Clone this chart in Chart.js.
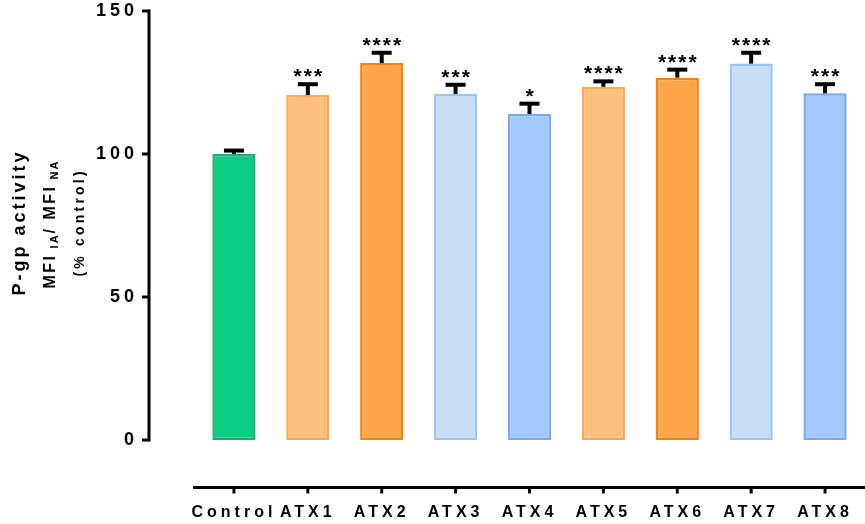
<!DOCTYPE html>
<html>
<head>
<meta charset="utf-8">
<title>P-gp activity</title>
<script src="https://cdn.jsdelivr.net/npm/chart.js@4.4.1/dist/chart.umd.min.js"></script>
<style>
  html, body { margin: 0; padding: 0; background: #ffffff; }
  #wrap { width: 865px; height: 524px; position: relative; }
</style>
</head>
<body>
<div id="wrap"><canvas id="chart"></canvas></div>
<script>
// Treatment groups and measured P-gp activity (MFI IA / MFI NA, % of control)
const categories = ['Control', 'ATX1', 'ATX2', 'ATX3', 'ATX4', 'ATX5', 'ATX6', 'ATX7', 'ATX8'];
const meanValues = [100, 120.6, 131.8, 121.0, 114.0, 123.5, 126.7, 131.6, 121.2];
const errorValues = [1.2, 3.8, 3.6, 3.2, 3.6, 1.9, 2.8, 3.8, 3.2];
const significance = ['', '***', '****', '***', '*', '****', '****', '****', '***'];
const yTickValues = [0, 50, 100, 150];

const fillColors = ['#08CE84', '#FFC07F', '#FFA64C', '#C8DDF7', '#A4C8FA', '#FFC07F', '#FFA64C', '#C8DDF7', '#A4C8FA'];
const borderColors = ['#1DAF74', '#FFA84E', '#FF8000', '#9AC4F7', '#72ACF5', '#FFA84E', '#FF8000', '#9AC4F7', '#72ACF5'];

const FONT = '"Liberation Sans", Arial, Helvetica, sans-serif';

// Draws the detached axes, error bars, significance stars and the y-axis title
const decorations = {
  id: 'decorations',
  beforeDraw(chart) {
    chart.ctx.letterSpacing = '4px';
  },
  afterDatasetsDraw(chart) {
    const ctx = chart.ctx;
    const xs = chart.scales.x;
    const ys = chart.scales.y;
    const area = chart.chartArea;

    ctx.save();
    ctx.strokeStyle = '#000';
    ctx.fillStyle = '#000';

    // error bars (upper half only)
    categories.forEach((_, i) => {
      const x = xs.getPixelForValue(i);
      const yBar = ys.getPixelForValue(meanValues[i]);
      const yTop = ys.getPixelForValue(meanValues[i] + errorValues[i]);
      ctx.lineWidth = 4;
      ctx.beginPath();
      ctx.moveTo(x, yBar);
      ctx.lineTo(x, yTop);
      ctx.stroke();
      ctx.beginPath();
      ctx.moveTo(x - 10, yTop);
      ctx.lineTo(x + 10, yTop);
      ctx.stroke();

      if (significance[i]) {
        ctx.font = 'bold 21px ' + FONT;
        ctx.letterSpacing = '2px';
        ctx.textAlign = 'center';
        ctx.textBaseline = 'alphabetic';
        ctx.fillText(significance[i], x + 1, yTop - 1);
      }
    });

    // y axis line and outward tick marks
    const axisX = area.left - 48;
    ctx.lineWidth = 3;
    ctx.beginPath();
    ctx.moveTo(axisX, ys.getPixelForValue(ys.max) - 1.5);
    ctx.lineTo(axisX, ys.getPixelForValue(ys.min) + 1.5);
    ctx.stroke();
    yTickValues.forEach(v => {
      const y = ys.getPixelForValue(v);
      ctx.beginPath();
      ctx.moveTo(axisX - 7, y);
      ctx.lineTo(axisX, y);
      ctx.stroke();
    });

    // x axis line, offset below the bars, with downward tick marks
    const axisY = area.bottom + 47.5;
    ctx.beginPath();
    ctx.moveTo(area.left - 4, axisY);
    ctx.lineTo(chart.width, axisY);
    ctx.stroke();
    categories.forEach((_, i) => {
      const x = xs.getPixelForValue(i);
      ctx.beginPath();
      ctx.moveTo(x, axisY);
      ctx.lineTo(x, axisY + 6);
      ctx.stroke();
    });

    // y-axis title: three stacked rotated lines, the middle one with subscripts
    const titleY = 224;
    ctx.textBaseline = 'alphabetic';

    ctx.save();
    ctx.translate(25, titleY);
    ctx.rotate(-Math.PI / 2);
    ctx.font = 'bold 18px ' + FONT;
    ctx.letterSpacing = '3px';
    ctx.textAlign = 'center';
    ctx.fillText('P-gp activity', 1.5, 0);
    ctx.restore();

    const parts = [
      { t: 'MFI', size: 16, shift: 0, sp: '2.5px' },
      { t: ' IA', size: 11, shift: 3, sp: '2px' },
      { t: '/ MFI', size: 16, shift: 0, sp: '2.5px' },
      { t: ' NA', size: 11, shift: 3, sp: '2px' }
    ];
    ctx.save();
    ctx.translate(55, titleY);
    ctx.rotate(-Math.PI / 2);
    ctx.textAlign = 'left';
    let total = 0;
    parts.forEach(p => {
      ctx.font = 'bold ' + p.size + 'px ' + FONT;
      ctx.letterSpacing = p.sp;
      p.w = ctx.measureText(p.t).width;
      total += p.w;
    });
    let px = -total / 2;
    parts.forEach(p => {
      ctx.font = 'bold ' + p.size + 'px ' + FONT;
      ctx.letterSpacing = p.sp;
      ctx.fillText(p.t, px, p.shift);
      px += p.w;
    });
    ctx.restore();

    ctx.save();
    ctx.translate(84, titleY);
    ctx.rotate(-Math.PI / 2);
    ctx.font = 'bold 14px ' + FONT;
    ctx.letterSpacing = '3.2px';
    ctx.textAlign = 'center';
    ctx.fillText('(% control)', 1.6, 0);
    ctx.restore();

    ctx.restore();
    ctx.letterSpacing = '4px';
  }
};

new Chart(document.getElementById('chart'), {
  type: 'bar',
  data: {
    labels: categories,
    datasets: [{
      data: meanValues,
      backgroundColor: fillColors,
      borderColor: borderColors,
      borderWidth: 2.5,
      borderSkipped: false,
      barPercentage: 0.585,
      categoryPercentage: 1.0
    }]
  },
  options: {
    responsive: true,
    maintainAspectRatio: false,
    animation: false,
    devicePixelRatio: 1,
    layout: { padding: { top: 11, right: 3, left: 0, bottom: 0 } },
    plugins: {
      legend: { display: false },
      tooltip: { enabled: false }
    },
    scales: {
      x: {
        type: 'category',
        grid: { display: false, drawTicks: false },
        border: { display: false },
        ticks: {
          autoSkip: false,
          maxRotation: 0,
          minRotation: 0,
          padding: 63,
          color: '#000',
          font: { family: FONT, size: 16, weight: 'bold' }
        },
        afterFit(scale) {
          scale.height = 84;
          scale.paddingLeft = 0;
          scale.paddingRight = 0;
          scale.paddingTop = 0;
          scale.paddingBottom = 0;
        }
      },
      y: {
        min: 0,
        max: 150,
        grid: { display: false, drawTicks: false },
        border: { display: false },
        afterBuildTicks(scale) { scale.ticks = yTickValues.map(v => ({ value: v })); },
        ticks: {
          padding: 59,
          color: '#000',
          font: { family: FONT, size: 18, weight: 'bold' }
        },
        afterFit(scale) {
          scale.width = 197;
          scale.paddingLeft = 0;
          scale.paddingRight = 0;
          scale.paddingTop = 0;
          scale.paddingBottom = 0;
        }
      }
    }
  },
  plugins: [decorations]
});
</script>
</body>
</html>
